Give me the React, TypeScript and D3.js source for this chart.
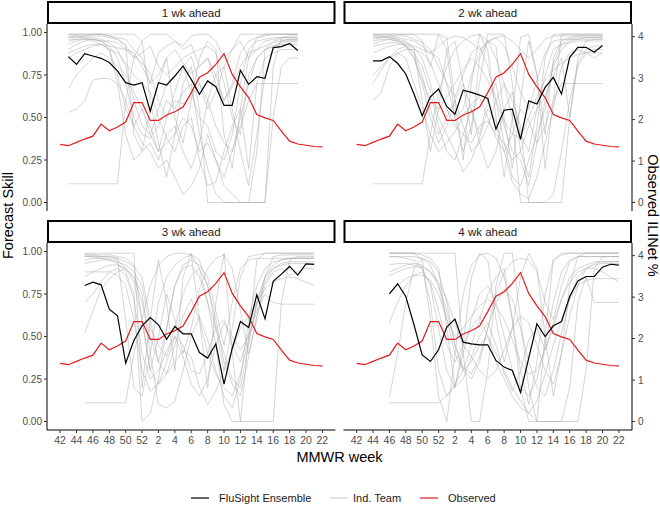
import * as d3 from "d3";

// season weeks 42..52 then 1..22, evenly spaced by index
const weekLabels = [42, 43, 44, 45, 46, 47, 48, 49, 50, 51, 52, 1, 2, 3, 4, 5, 6, 7, 8, 9, 10, 11, 12, 13, 14, 15, 16, 17, 18, 19, 20, 21, 22];
const horizons = ["1 wk ahead", "2 wk ahead", "3 wk ahead", "4 wk ahead"];
const skillTicks = [0, 0.25, 0.5, 0.75, 1];
const iliTicks = [0, 1, 2, 3, 4];

const observedILI = [1.40, 1.37, 1.45, 1.53, 1.60, 1.89, 1.73, 1.82, 1.94, 2.41, 2.41, 1.98, 1.98, 2.11, 2.19, 2.30, 2.65, 3.02, 3.13, 3.33, 3.59, 3.09, 2.79, 2.53, 2.12, 2.04, 1.98, 1.72, 1.48, 1.41, 1.38, 1.35, 1.34];

const ensemble1wk = [0.858, 0.813, 0.876, 0.862, 0.848, 0.823, 0.774, 0.705, 0.691, 0.705, 0.537, 0.705, 0.691, 0.744, 0.803, 0.724, 0.636, 0.715, 0.681, 0.571, 0.571, 0.778, 0.695, 0.740, 0.730, 0.911, 0.917, 0.935, 0.894];
const ensemble2wk = [0.833, 0.833, 0.858, 0.819, 0.756, 0.638, 0.510, 0.622, 0.667, 0.565, 0.520, 0.661, 0.648, 0.632, 0.612, 0.431, 0.543, 0.549, 0.372, 0.598, 0.579, 0.677, 0.736, 0.638, 0.854, 0.913, 0.913, 0.884, 0.923];
const ensemble3wk = [0.800, 0.820, 0.804, 0.661, 0.622, 0.343, 0.476, 0.563, 0.612, 0.569, 0.484, 0.559, 0.516, 0.516, 0.406, 0.373, 0.457, 0.220, 0.431, 0.588, 0.553, 0.745, 0.604, 0.824, 0.867, 0.912, 0.861, 0.927, 0.924];
const ensemble4wk = [0.751, 0.810, 0.735, 0.569, 0.392, 0.353, 0.422, 0.555, 0.602, 0.467, 0.457, 0.451, 0.451, 0.359, 0.320, 0.300, 0.171, 0.373, 0.575, 0.500, 0.563, 0.588, 0.735, 0.827, 0.853, 0.853, 0.908, 0.925, 0.920];

// individual team skill, in percent
const teams1wk = [
  [97, 98, 98, 99, 99, 98, 97, 96, 90, 85, 70, 88, 92, 95, 90, 93, 80, 85, 75, 60, 70, 88, 95, 97, 98, 99, 99, 99, 99],
  [95, 96, 97, 97, 96, 94, 90, 80, 60, 45, 40, 55, 70, 75, 80, 65, 50, 45, 30, 25, 40, 70, 90, 95, 96, 97, 97, 97, 97],
  [90, 93, 95, 96, 95, 92, 85, 70, 50, 40, 38, 45, 60, 55, 65, 70, 40, 20, 5, 0, 0, 0, 0, 30, 90, 95, 96, 96, 96],
  [67, 75, 80, 85, 88, 85, 80, 75, 65, 55, 45, 30, 50, 60, 58, 62, 70, 60, 45, 35, 30, 50, 70, 85, 90, 92, 94, 95, 95],
  [11, 11, 11, 11, 11, 11, 11, 60, 85, 95, 99, 99, 99, 95, 92, 98, 99, 99, 95, 85, 90, 99, 99, 99, 99, 99, 99, 99, 99],
  [99, 99, 99, 99, 99, 99, 99, 99, 99, 95, 60, 35, 15, 40, 70, 80, 55, 0, 0, 0, 0, 0, 0, 0, 0, 80, 97, 98, 98],
  [98, 98, 97, 95, 93, 90, 70, 40, 25, 30, 35, 25, 40, 45, 30, 20, 35, 60, 75, 80, 55, 30, 10, 40, 75, 90, 95, 96, 96],
  [85, 88, 90, 92, 93, 90, 88, 82, 75, 70, 65, 50, 38, 30, 45, 50, 25, 10, 12, 30, 45, 55, 20, 70, 85, 88, 90, 90, 90],
  [93, 95, 96, 96, 95, 95, 94, 90, 85, 88, 92, 80, 75, 80, 85, 88, 90, 92, 88, 70, 50, 40, 75, 85, 90, 92, 93, 93, 93],
  [53, 55, 60, 72, 73, 73, 70, 60, 45, 35, 30, 20, 25, 15, 5, 10, 20, 40, 25, 10, 5, 0, 0, 0, 0, 50, 80, 85, 85],
  [97, 97, 98, 98, 98, 97, 96, 92, 86, 82, 76, 60, 50, 65, 80, 86, 70, 55, 65, 80, 90, 95, 85, 90, 95, 96, 97, 97, 97],
  [99, 99, 99, 99, 99, 98, 96, 93, 40, 30, 55, 70, 85, 50, 35, 60, 85, 95, 90, 40, 20, 55, 85, 97, 99, 99, 99, 99, 99],
  [96, 96, 96, 96, 95, 90, 75, 55, 45, 55, 40, 30, 35, 40, 50, 45, 30, 35, 25, 15, 30, 45, 60, 70, 70, 70, 70, 70, 70],
  [88, 90, 92, 93, 93, 92, 91, 90, 88, 80, 70, 75, 85, 90, 82, 76, 80, 85, 70, 60, 68, 80, 88, 90, 92, 94, 95, 95, 95],
];
const teams2wk = [
  [98, 98, 97, 96, 95, 90, 60, 30, 55, 90, 95, 70, 40, 85, 95, 92, 50, 20, 60, 95, 75, 40, 85, 95, 97, 98, 98, 98, 98],
  [96, 97, 97, 96, 92, 85, 70, 50, 35, 45, 60, 70, 55, 40, 60, 70, 45, 30, 25, 10, 35, 60, 80, 90, 95, 96, 97, 97, 97],
  [11, 11, 11, 11, 11, 11, 11, 40, 65, 80, 90, 95, 98, 99, 95, 85, 70, 60, 45, 0, 0, 0, 0, 0, 50, 85, 95, 96, 96],
  [93, 95, 96, 95, 93, 88, 80, 65, 45, 30, 25, 40, 55, 35, 20, 30, 55, 65, 40, 30, 55, 75, 90, 93, 94, 95, 95, 95, 95],
  [70, 78, 85, 90, 92, 88, 75, 55, 40, 50, 60, 45, 30, 35, 45, 60, 70, 50, 0, 0, 0, 0, 5, 30, 60, 80, 88, 90, 90],
  [99, 99, 99, 99, 99, 99, 95, 80, 99, 97, 60, 25, 70, 99, 90, 50, 15, 50, 97, 99, 75, 20, 60, 99, 99, 99, 99, 99, 99],
  [60, 65, 80, 88, 85, 70, 55, 40, 30, 35, 42, 50, 58, 62, 50, 38, 30, 40, 55, 48, 35, 45, 60, 70, 70, 70, 70, 70, 70],
  [97, 97, 98, 98, 98, 96, 94, 90, 80, 70, 62, 75, 88, 92, 80, 60, 35, 15, 10, 25, 40, 55, 82, 93, 96, 97, 97, 97, 97],
  [88, 90, 92, 93, 93, 91, 85, 70, 50, 40, 30, 18, 25, 38, 55, 48, 30, 12, 5, 2, 15, 35, 55, 80, 88, 90, 88, 85, 88],
  [95, 96, 96, 95, 94, 92, 90, 88, 85, 70, 50, 55, 75, 88, 95, 97, 92, 80, 65, 55, 72, 88, 95, 96, 96, 96, 96, 96, 96],
  [99, 99, 99, 99, 99, 99, 99, 99, 99, 90, 50, 30, 45, 70, 99, 99, 99, 70, 30, 15, 45, 85, 99, 99, 99, 99, 99, 99, 99],
  [75, 80, 85, 88, 90, 90, 88, 82, 70, 55, 45, 40, 35, 45, 48, 40, 35, 25, 30, 45, 55, 62, 75, 85, 50, 82, 90, 92, 92],
  [92, 93, 94, 94, 92, 85, 72, 60, 55, 62, 70, 78, 85, 80, 72, 60, 48, 40, 38, 50, 62, 72, 78, 82, 85, 87, 88, 88, 88],
  [98, 98, 98, 97, 96, 95, 92, 88, 92, 96, 98, 97, 94, 90, 94, 97, 98, 95, 90, 85, 90, 96, 98, 98, 98, 98, 98, 98, 98],
];
const teams3wk = [
  [98, 98, 97, 97, 96, 60, 20, 15, 40, 70, 85, 92, 96, 98, 95, 80, 55, 30, 55, 85, 97, 98, 99, 99, 99, 99, 99, 99, 99],
  [97, 97, 96, 95, 93, 88, 75, 0, 5, 25, 55, 80, 90, 92, 85, 70, 55, 40, 25, 20, 45, 70, 85, 92, 95, 96, 96, 96, 96],
  [11, 11, 11, 11, 11, 11, 40, 60, 80, 92, 97, 99, 99, 98, 90, 70, 45, 10, 0, 0, 0, 0, 0, 0, 70, 95, 97, 97, 97],
  [88, 88, 88, 88, 86, 80, 60, 30, 18, 22, 35, 50, 45, 30, 28, 40, 55, 60, 45, 35, 52, 70, 85, 90, 92, 93, 93, 93, 93],
  [52, 65, 78, 84, 88, 90, 85, 70, 50, 35, 28, 35, 42, 38, 20, 10, 18, 30, 42, 55, 62, 70, 78, 82, 84, 85, 84, 82, 80],
  [99, 99, 99, 99, 99, 99, 99, 20, 60, 95, 70, 30, 85, 99, 60, 20, 70, 99, 40, 0, 50, 95, 99, 99, 99, 99, 99, 99, 99],
  [70, 75, 82, 88, 90, 86, 72, 40, 25, 30, 42, 50, 38, 22, 15, 25, 45, 58, 50, 42, 50, 65, 75, 70, 69, 69, 69, 69, 69],
  [95, 96, 96, 96, 95, 90, 82, 60, 30, 22, 28, 45, 62, 72, 60, 40, 28, 20, 15, 28, 48, 68, 82, 90, 93, 94, 94, 94, 94],
  [93, 94, 95, 95, 94, 92, 88, 80, 55, 45, 38, 55, 75, 86, 90, 80, 60, 35, 22, 15, 38, 62, 80, 88, 90, 86, 88, 90, 90],
  [97, 97, 97, 97, 96, 94, 91, 85, 60, 35, 55, 80, 92, 95, 92, 85, 65, 45, 70, 90, 95, 96, 96, 96, 96, 96, 96, 96, 96],
  [85, 88, 90, 92, 92, 90, 85, 75, 40, 10, 8, 12, 30, 50, 62, 48, 30, 15, 8, 25, 60, 80, 90, 94, 95, 96, 96, 96, 96],
  [98, 98, 98, 98, 97, 96, 92, 60, 30, 50, 75, 60, 40, 55, 78, 90, 96, 98, 90, 65, 40, 60, 85, 97, 98, 98, 98, 98, 98],
];
const teams4wk = [
  [99, 99, 99, 99, 95, 60, 15, 0, 40, 75, 92, 98, 99, 96, 85, 60, 30, 10, 35, 75, 95, 98, 99, 99, 99, 99, 99, 99, 99],
  [97, 97, 96, 95, 90, 70, 30, 15, 20, 40, 60, 75, 80, 70, 50, 30, 20, 15, 25, 45, 70, 88, 95, 97, 97, 97, 97, 97, 97],
  [11, 11, 11, 11, 11, 11, 11, 15, 22, 30, 45, 60, 75, 85, 90, 60, 20, 0, 0, 0, 0, 0, 0, 0, 30, 90, 97, 97, 97],
  [92, 93, 93, 92, 90, 80, 55, 30, 20, 25, 38, 50, 58, 45, 28, 18, 30, 48, 55, 42, 55, 72, 85, 90, 92, 94, 94, 94, 94],
  [58, 70, 80, 86, 88, 82, 65, 45, 35, 45, 55, 62, 50, 35, 25, 15, 8, 5, 12, 28, 45, 60, 72, 80, 83, 84, 84, 84, 84],
  [99, 99, 99, 99, 99, 99, 99, 99, 99, 40, 0, 0, 30, 80, 99, 99, 60, 20, 0, 50, 95, 99, 99, 99, 99, 99, 99, 99, 99],
  [14, 40, 70, 90, 96, 92, 80, 60, 40, 30, 35, 45, 50, 40, 30, 20, 12, 5, 0, 0, 0, 0, 20, 70, 85, 70, 70, 70, 70],
  [88, 90, 92, 93, 92, 88, 80, 65, 45, 32, 28, 38, 55, 70, 78, 72, 55, 35, 20, 15, 30, 52, 72, 85, 90, 92, 93, 93, 93],
  [75, 80, 84, 86, 86, 83, 75, 60, 50, 55, 62, 68, 72, 68, 60, 48, 35, 28, 30, 42, 58, 72, 82, 88, 90, 90, 88, 85, 82],
  [97, 97, 97, 97, 96, 94, 88, 70, 45, 30, 25, 35, 55, 75, 88, 94, 96, 95, 88, 70, 60, 80, 94, 97, 97, 97, 97, 97, 97],
  [86, 88, 90, 91, 91, 88, 82, 72, 58, 45, 38, 30, 25, 30, 42, 55, 62, 58, 45, 30, 22, 40, 62, 80, 90, 93, 94, 94, 94],
  [99, 99, 99, 99, 98, 96, 90, 55, 20, 45, 85, 99, 95, 60, 35, 55, 85, 99, 90, 50, 15, 40, 80, 97, 99, 99, 99, 99, 99],
];

const ensembles = [ensemble1wk, ensemble2wk, ensemble3wk, ensemble4wk];
const teams = [teams1wk, teams2wk, teams3wk, teams4wk];

const W = 660
const H = 507
const plotLeft = 47
const plotRight = 632
const gap = 8
const stripH = 23
const panelH = 187
const rowTops = [1, 220]
const iliFactor = 4.1
const font = "'Liberation Sans', Arial, Helvetica, sans-serif"
const tickColor = "#4d4d4d"
const greyTeam = "#a8a8a8"

export default function App() {
  const panelW = (plotRight - plotLeft - gap) / 2
  const n = weekLabels.length - 1

  const panels = horizons.map((label, k) => {
    const col = k % 2
    const row = Math.floor(k / 2)
    const x0 = plotLeft + col * (panelW + gap)
    const stripTop = rowTops[row]
    const top = stripTop + stripH
    const bottom = top + panelH
    const x = d3.scaleLinear().domain([-n * 0.05, n * 1.05]).range([x0, x0 + panelW])
    const y = d3.scaleLinear().domain([-0.05, 1.05]).range([bottom, top])
    const start = k + 1 // k wk ahead forecasts start k weeks into the season
    const skillLine = d3.line<number>().x((d, j) => x(j + start)).y(d => y(d))
    const iliLine = d3.line<number>().x((d, j) => x(j)).y(d => y(d / iliFactor))
    return { label, k, col, row, x0, stripTop, top, bottom, x, y, skillLine, iliLine }
  })

  const midY = (rowTops[0] + panels[3].bottom) / 2

  return (
    <>
      <style>{`body{margin:0}`}</style>
      <svg width={W} height={H} viewBox={`0 0 ${W} ${H}`} style={{ display: "block", fontFamily: font }}>
        <rect width={W} height={H} fill="white" />
        {panels.map(p => (
          <g key={p.label}>
            {/* strip */}
            <rect x={p.x0 + 1} y={p.stripTop + 1} width={panelW - 2} height={stripH - 2} fill="white" stroke="black" strokeWidth={2} />
            <text x={p.x0 + panelW / 2} y={p.stripTop + stripH / 2 + 4} textAnchor="middle" fontSize={11.5} fill="#1a1a1a">{p.label}</text>

            {teams[p.k].map((t, i) => (
              <path key={i} d={p.skillLine(t.map(v => v / 100)) || ""} fill="none" stroke={greyTeam} strokeOpacity={0.48} strokeWidth={1} />
            ))}
            <path d={p.iliLine(observedILI) || ""} fill="none" stroke="#e41a1c" strokeWidth={1.2} />
            <path d={p.skillLine(ensembles[p.k]) || ""} fill="none" stroke="black" strokeWidth={1.2} />

            {/* left axis */}
            {p.col === 0 && (
              <g>
                <line x1={p.x0} x2={p.x0} y1={p.top} y2={p.bottom} stroke="black" strokeWidth={1} />
                {skillTicks.map(t => (
                  <g key={t}>
                    <line x1={p.x0 - 3} x2={p.x0} y1={p.y(t)} y2={p.y(t)} stroke="#333" />
                    <text x={p.x0 - 5} y={p.y(t) + 3.5} textAnchor="end" fontSize={10} fill={tickColor}>{d3.format(".2f")(t)}</text>
                  </g>
                ))}
              </g>
            )}

            {/* right (secondary) axis */}
            {p.col === 1 && (
              <g>
                <line x1={p.x0 + panelW} x2={p.x0 + panelW} y1={p.top} y2={p.bottom} stroke="black" strokeWidth={1} />
                {iliTicks.map(t => (
                  <g key={t}>
                    <line x1={p.x0 + panelW} x2={p.x0 + panelW + 3} y1={p.y(t / iliFactor)} y2={p.y(t / iliFactor)} stroke="#333" />
                    <text x={p.x0 + panelW + 6} y={p.y(t / iliFactor) + 3.5} textAnchor="start" fontSize={10} fill={tickColor}>{t}</text>
                  </g>
                ))}
              </g>
            )}

            {/* bottom axis */}
            {p.row === 1 && (
              <g>
                <line x1={p.x0} x2={p.x0 + panelW} y1={p.bottom} y2={p.bottom} stroke="black" strokeWidth={1} />
                {weekLabels.map((w, i) => i % 2 === 0 && (
                  <g key={i}>
                    <line x1={p.x(i)} x2={p.x(i)} y1={p.bottom} y2={p.bottom + 3} stroke="#333" />
                    <text x={p.x(i)} y={p.bottom + 14} textAnchor="middle" fontSize={10.5} fill={tickColor}>{w}</text>
                  </g>
                ))}
              </g>
            )}
          </g>
        ))}

        <text x={(plotLeft + plotRight) / 2} y={462} textAnchor="middle" fontSize={14.5} fill="black">MMWR week</text>
        <text transform={`translate(13,${midY}) rotate(-90)`} textAnchor="middle" fontSize={14.5} fill="black">Forecast Skill</text>
        <text transform={`translate(648,${midY}) rotate(90)`} textAnchor="middle" fontSize={14.5} fill="black">Observed ILINet %</text>

        {/* legend */}
        <g fontSize={11}>
          <line x1={191} x2={209} y1={498} y2={498} stroke="black" strokeWidth={1.2} />
          <text x={219} y={502} fill="#1a1a1a">FluSight Ensemble</text>
          <line x1={330} x2={348} y1={498} y2={498} stroke={greyTeam} strokeOpacity={0.5} strokeWidth={1.2} />
          <text x={353} y={502} fill="#1a1a1a">Ind. Team</text>
          <line x1={420} x2={438} y1={498} y2={498} stroke="#e41a1c" strokeWidth={1.2} />
          <text x={448} y={502} fill="#1a1a1a">Observed</text>
        </g>
      </svg>
    </>
  )
}
